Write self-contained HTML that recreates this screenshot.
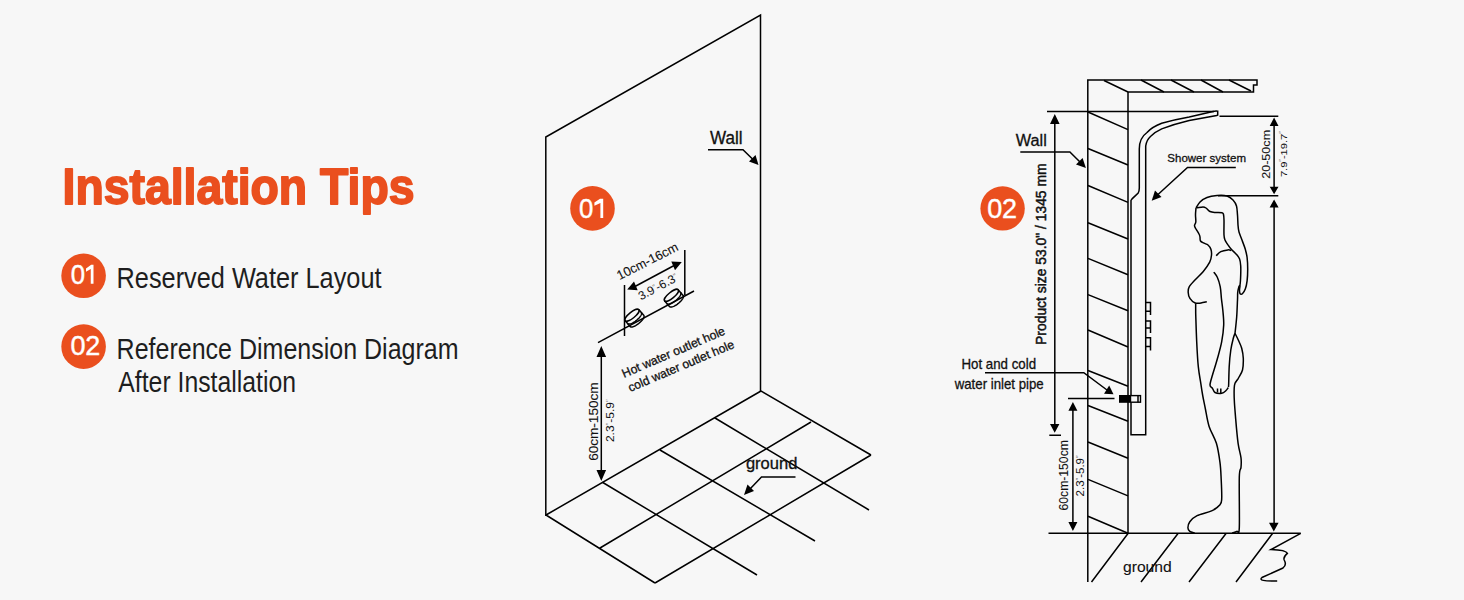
<!DOCTYPE html>
<html><head><meta charset="utf-8"><title>Installation Tips</title>
<style>
html,body{margin:0;padding:0;background:#f7f7f7;}
body{width:1464px;height:600px;overflow:hidden;font-family:"Liberation Sans",sans-serif;}
svg{display:block;}
svg text{font-family:"Liberation Sans",sans-serif;}
.ln{fill:none;stroke:#000;stroke-width:1.5;stroke-linecap:butt;stroke-linejoin:miter;}
.fl{fill:#000;stroke:none;}
</style></head>
<body>
<svg width="1464" height="600" viewBox="0 0 1464 600">
<rect width="1464" height="600" fill="#f7f7f7"/>
<text x="62.5" y="203.5" font-size="50" font-weight="bold" style="fill:#ea4f1e;stroke:#ea4f1e;stroke-width:1.8;stroke-linejoin:round" textLength="352" lengthAdjust="spacingAndGlyphs">Installation Tips</text>
<circle cx="83.6" cy="275.8" r="22.3" fill="#ea4f1e"/>
<circle cx="83.6" cy="346.6" r="22.3" fill="#ea4f1e"/>
<circle cx="592.5" cy="208.4" r="22.3" fill="#ea4f1e"/>
<circle cx="1002.6" cy="208.4" r="22.2" fill="#ea4f1e"/>
<path fill="#fff" d="M93.5,264.8 V283.8 H90.75 V268.9 L86,271.7 V268.6 L91.2,264.8 Z M603.2,198.8 V218 H600.4 V202.9 L594.4,205.8 V202.6 L600,198.8 Z"/>
<!-- DIAGRAM 1 -->
<path class="ln" d="M545.8,516 V137 L760.5,15 V392"/>
<!-- floor -->
<path class="ln" d="M546,515 L761,391 M600,548 L811,422 M655,583 L871,455 M546,515 L655,583 M602,482 L757,575 M660,450 L815,541 M715,418 L869,510 M761,391 L871,455"/>
<!-- wall leader -->
<path class="ln" d="M708,149.7 H743 L753,159.5"/>
<path class="fl" d="M758.5,165 L749,161.5 L755.5,155 Z"/>
<!-- pipes -->
<path class="ln" d="M598,342.6 L694,291 M624.5,285 V336 M684.8,250 V295"/>
<path class="ln" d="M634,287 L676,264.5"/>
<path class="fl" d="M627.2,289.6 L637.7,290.2 L634,281.4 Z M681.8,262 L671.3,261.4 L675,270.2 Z"/>
<ellipse class="ln" cx="632.00" cy="315.20" rx="8.8" ry="3.0" transform="rotate(-39 632.00 315.20)"/>
<path class="ln" d="M638.73,309.55 L643.73,315.35 L643.93,315.59 L644.05,315.89 L644.09,316.25 L644.06,316.67 L643.95,317.12 L643.76,317.63 L643.50,318.16 L643.17,318.73 L642.77,319.33 L642.31,319.94 L641.79,320.56 L641.21,321.19 L640.59,321.82 L639.93,322.44 L639.24,323.04 L638.53,323.62 L637.79,324.17 L637.05,324.69 L636.31,325.16 L635.58,325.59 L634.86,325.97 L634.16,326.30 L633.50,326.56 L632.87,326.77 L632.29,326.91 L631.76,326.99 L631.29,327.01 L630.88,326.95 L630.54,326.83 L630.27,326.65 L630.07,326.41 L625.07,320.61"/>
<path class="ln" d="M641.23,312.45 L641.43,312.69 L641.55,312.99 L641.59,313.35 L641.56,313.77 L641.45,314.22 L641.26,314.73 L641.00,315.26 L640.67,315.83 L640.27,316.43 L639.81,317.04 L639.29,317.66 L638.71,318.29 L638.09,318.92 L637.43,319.54 L636.74,320.14 L636.03,320.72 L635.29,321.27 L634.55,321.79 L633.81,322.26 L633.08,322.69 L632.36,323.07 L631.66,323.40 L631.00,323.66 L630.37,323.87 L629.79,324.01 L629.26,324.09 L628.79,324.11 L628.38,324.05 L628.04,323.93 L627.77,323.75 L627.57,323.51"/>
<ellipse class="ln" cx="671.40" cy="295.30" rx="8.8" ry="3.0" transform="rotate(-39 671.40 295.30)"/>
<path class="ln" d="M678.13,289.65 L683.13,295.45 L683.33,295.69 L683.45,295.99 L683.49,296.35 L683.46,296.77 L683.35,297.22 L683.16,297.73 L682.90,298.26 L682.57,298.83 L682.17,299.43 L681.71,300.04 L681.19,300.66 L680.61,301.29 L679.99,301.92 L679.33,302.54 L678.64,303.14 L677.93,303.72 L677.19,304.27 L676.45,304.79 L675.71,305.26 L674.98,305.69 L674.26,306.07 L673.56,306.40 L672.90,306.66 L672.27,306.87 L671.69,307.01 L671.16,307.09 L670.69,307.11 L670.28,307.05 L669.94,306.93 L669.67,306.75 L669.47,306.51 L664.47,300.71"/>
<path class="ln" d="M680.63,292.55 L680.83,292.79 L680.95,293.09 L680.99,293.45 L680.96,293.87 L680.85,294.32 L680.66,294.83 L680.40,295.36 L680.07,295.93 L679.67,296.53 L679.21,297.14 L678.69,297.76 L678.11,298.39 L677.49,299.02 L676.83,299.64 L676.14,300.24 L675.43,300.82 L674.69,301.37 L673.95,301.89 L673.21,302.36 L672.48,302.79 L671.76,303.17 L671.06,303.50 L670.40,303.76 L669.77,303.97 L669.19,304.11 L668.66,304.19 L668.19,304.21 L667.78,304.15 L667.44,304.03 L667.17,303.85 L666.97,303.61"/>
<!-- 60-150 dim -->
<path class="ln" d="M601.3,354 V472"/>
<path class="fl" d="M601.3,346 L596.5,357 L606.1,357 Z M601.3,481 L596.5,470 L606.1,470 Z"/>
<!-- ground leader -->
<path class="ln" d="M795.5,477 H761.5 L750,489"/>
<path class="fl" d="M744,495 L747.5,484.5 L754,491 Z"/>

<!-- DIAGRAM 2 -->
<path class="ln" d="M1087.8,582 V80 H1257 V85 H1253.5 V92 H1128 V533.3"/>
<path class="ln" d="M1104,80.5 L1128,92 M1141,80 L1164,92 M1171,80 L1194,92 M1201,80 L1223,92 M1229,80 L1251,91"/>
<path class="ln" d="M1088,112 L1128,129.6 M1088,148.5 L1128,165 M1088,185.5 L1128,202.4 M1088,222.7 L1128,239 M1088,258.4 L1128,274.7 M1088,294.6 L1128,310.8 M1088,330 L1128,347 M1088,370.5 L1128,386.3 M1088,405.5 L1128,421.3 M1088,442 L1128,458.2 M1088,479.4 L1128,495.9 M1088,516.2 L1128,533.2"/>
<path class="ln" d="M1048.5,533.3 H1300.7 M1128,533.5 L1091.5,582 M1178,533.5 L1141,582 M1226,533.5 L1189,582 M1272.5,533.5 L1236,582"/>
<path class="ln" d="M1300.7,533.3 L1271,549.5 Q1286,550 1287.4,553.4 Q1283,557 1284.2,560 Q1287,565 1283,568 L1262,577.5 Q1257,581.5 1277.2,581"/>
<!-- product size dim -->
<path class="ln" d="M1047,111.4 H1214"/>
<path class="ln" d="M1054.8,122 V425 M1049.3,435.3 H1061"/>
<path class="fl" d="M1054.8,113.9 L1050,124 L1059.6,124 Z M1054.7,432.7 L1050,424 L1059.4,424 Z"/>
<!-- wall leader -->
<path class="ln" d="M1020.3,152 H1069.9 L1080,162"/>
<path class="fl" d="M1085.9,167.9 L1076,164.5 L1082.6,158 Z"/>
<!-- shower panel -->
<path class="ln" d="M1131,434.8 V200.4 L1132.3,198.6 L1138.2,193 Q1139.3,191 1139.3,188 V149 Q1139.3,138 1147,132.5 Q1152,127 1161.7,123.3 Q1175,119.5 1189.2,117 L1213,111.4 Q1216,110.8 1217.7,111.2 V115 Q1217,115.4 1216.7,115.5 L1189.2,120.6 Q1175,124 1161.7,128.9 Q1155,132 1150.7,136.2 Q1146.5,140 1145.7,146 V434.8 Z"/>
<path class="ln" d="M1145.6,302.6 H1150.5 V315 M1145.6,311.2 H1150.5 M1145.6,320.9 H1150.5 V333.1 M1145.6,327.9 H1150.5 M1145.6,337.8 H1150.5 V350.4 M1145.6,346.5 H1150.5"/>
<!-- connector -->
<rect x="1119" y="395" width="11.5" height="7.8" fill="#000"/>
<rect x="1130.5" y="395.6" width="10" height="6.6" fill="#f7f7f7" stroke="#000" stroke-width="1.4"/>
<path class="ln" d="M1138,395.6 V402.2"/>
<!-- inlet leader -->
<path class="ln" d="M985,372.7 H1083.8 L1107,390"/>
<path class="fl" d="M1104,393.8 L1113.5,394.2 L1109.2,385.5 Z"/>
<!-- 60-150 dim 2 -->
<path class="ln" d="M1068,398.4 H1114.5 M1072.9,408 V524"/>
<path class="fl" d="M1072.9,402 L1068.4,410.7 L1077.4,410.7 Z M1072.9,531 L1068.4,522 L1077.4,522 Z"/>
<!-- shower system leader -->
<path class="ln" d="M1235.8,167.5 H1187.5 L1158,194.5"/>
<path class="fl" d="M1151.7,200.8 L1155,190.5 L1161.5,197 Z"/>
<!-- 20-50 dim -->
<path class="ln" d="M1219.5,116.3 H1278.3 M1274.1,124 V188 M1218,195.8 H1278.3 M1274.1,207 V524"/>
<path class="fl" d="M1274.1,117.5 L1269.7,126 L1278.5,126 Z M1274.1,194.2 L1269.7,186.7 L1278.5,186.7 Z M1274.1,199.5 L1269.6,207.5 L1278.6,207.5 Z M1273.8,531.4 L1269,522.8 L1278.6,522.8 Z"/>

<!-- person -->
<path class="ln" d="M1196.0,208.0 C1196.7,207.0 1198.2,203.8 1200.0,202.0 C1201.8,200.2 1204.2,198.6 1207.0,197.5 C1209.8,196.4 1213.7,195.8 1217.0,195.5 C1220.3,195.2 1224.3,195.2 1227.0,196.0 C1229.7,196.8 1231.4,198.3 1233.0,200.0 C1234.6,201.7 1235.8,203.5 1236.5,206.0 C1237.2,208.5 1237.2,211.8 1237.5,215.0 C1237.8,218.2 1237.8,222.2 1238.0,225.0 C1238.2,227.8 1238.3,229.5 1239.0,232.0 C1239.7,234.5 1241.0,237.1 1242.0,240.0 C1243.0,242.9 1244.5,246.4 1245.3,249.3 C1246.1,252.2 1246.7,254.2 1247.1,257.5 C1247.5,260.8 1247.7,265.3 1247.7,269.2 C1247.7,273.1 1247.5,277.5 1247.1,280.8 C1246.7,284.1 1246.1,286.9 1245.3,289.0 C1244.5,291.1 1243.3,292.9 1242.4,293.7 C1241.5,294.5 1240.6,294.3 1240.1,293.7 C1239.6,293.1 1239.5,291.6 1239.5,290.2 C1239.5,288.8 1240.0,286.3 1240.1,285.5"/>
<path class="ln" d="M1196.0,208.0 C1195.9,209.2 1195.5,212.7 1195.5,215.0 C1195.5,217.3 1196.0,220.2 1195.8,222.0 C1195.6,223.8 1194.5,224.3 1194.5,225.5 C1194.5,226.7 1195.2,227.6 1196.0,229.0 C1196.8,230.4 1198.3,232.7 1199.0,234.0 C1199.7,235.3 1199.8,235.8 1200.0,237.0 C1200.2,238.2 1199.8,240.0 1200.5,241.0 C1201.2,242.0 1202.8,242.5 1204.0,243.2 C1205.2,243.9 1206.8,244.0 1208.0,245.0 C1209.2,246.0 1210.3,247.6 1210.9,249.3 C1211.5,251.0 1211.7,253.0 1211.5,255.2 C1211.3,257.3 1211.1,259.5 1209.7,262.2 C1208.3,264.9 1205.7,268.6 1203.3,271.5 C1200.9,274.4 1197.5,277.2 1195.2,279.7 C1192.9,282.2 1190.5,284.6 1189.3,286.7 C1188.1,288.8 1188.1,290.6 1188.2,292.5 C1188.3,294.4 1188.7,296.6 1189.9,298.3 C1191.1,300.1 1193.4,302.2 1195.2,303.0 C1197.0,303.8 1199.1,303.2 1201.0,303.0 C1202.9,302.8 1205.8,302.0 1206.8,301.8"/>
<path class="ln" d="M1197.0,207.8 C1198.0,207.7 1201.5,207.0 1203.0,207.0 C1204.5,207.0 1204.8,207.2 1206.0,208.0 C1207.2,208.8 1208.5,210.8 1210.0,211.5 C1211.5,212.2 1213.0,212.3 1215.0,212.5 C1217.0,212.7 1220.6,212.5 1222.0,212.8 C1223.4,213.1 1223.2,213.3 1223.5,214.5 C1223.8,215.7 1223.9,216.6 1224.0,220.0 C1224.1,223.4 1223.8,231.7 1224.0,235.0 C1224.2,238.3 1224.4,238.4 1225.0,240.0 C1225.6,241.6 1226.8,243.1 1227.8,244.7 C1228.8,246.2 1229.9,247.8 1231.3,249.3 C1232.7,250.9 1234.6,252.4 1236.0,254.0 C1237.4,255.6 1238.7,256.8 1239.5,258.7 C1240.3,260.6 1240.5,263.0 1240.7,265.7 C1240.9,268.4 1240.8,271.9 1240.7,275.0 C1240.6,278.1 1240.4,282.4 1240.1,284.3 C1239.8,286.2 1239.3,285.3 1238.9,286.7 C1238.5,288.1 1237.9,290.3 1237.7,292.5 C1237.5,294.7 1237.7,296.0 1237.5,300.0 C1237.3,304.0 1237.1,311.1 1236.7,316.7 C1236.3,322.2 1235.3,330.5 1235.0,333.3"/>
<path class="ln" d="M1216.2,255.7 C1217.0,255.0 1218.9,252.7 1220.8,251.7 C1222.7,250.7 1226.0,250.1 1227.8,249.9 C1229.5,249.7 1230.7,250.4 1231.3,250.5"/>
<path class="ln" d="M1213.8,272.1 C1214.4,273.0 1216.2,274.9 1217.3,277.3 C1218.4,279.7 1219.5,283.2 1220.2,286.7 C1220.9,290.2 1221.0,294.4 1221.4,298.3 C1221.8,302.2 1222.4,305.6 1222.8,310.0 C1223.2,314.4 1223.9,319.7 1223.7,325.0 C1223.5,330.3 1222.7,336.1 1221.7,341.7 C1220.7,347.2 1219.0,352.8 1217.5,358.3 C1216.0,363.9 1213.8,370.6 1212.5,375.0 C1211.2,379.4 1210.0,382.8 1210.0,385.0 C1210.0,387.2 1211.7,387.1 1212.5,388.3 C1213.3,389.6 1213.5,391.7 1215.0,392.5 C1216.5,393.3 1219.9,393.6 1221.7,393.3 C1223.5,393.0 1224.7,391.8 1225.8,390.8 C1226.9,389.8 1227.9,388.1 1228.3,387.5"/>
<path class="ln" d="M1235.0,333.3 C1234.7,334.1 1234.0,335.5 1233.3,338.3 C1232.6,341.1 1231.5,345.3 1230.8,350.0 C1230.1,354.7 1229.5,361.1 1229.2,366.7 C1228.9,372.2 1228.8,379.9 1228.7,383.3 C1228.6,386.7 1228.5,386.4 1228.5,387.0"/>
<path class="ln" d="M1235.0,333.3 C1235.5,334.4 1237.2,337.5 1238.3,340.0 C1239.4,342.5 1240.9,345.2 1241.7,348.3 C1242.5,351.4 1243.2,354.7 1243.3,358.3 C1243.4,361.9 1243.3,366.7 1242.5,370.0 C1241.7,373.3 1239.5,376.1 1238.3,378.3 C1237.0,380.5 1235.7,381.6 1235.0,383.3 C1234.3,385.0 1234.3,385.5 1234.2,388.3 C1234.1,391.1 1234.0,394.9 1234.3,400.0 C1234.5,405.1 1235.1,411.9 1235.7,419.1 C1236.3,426.3 1237.2,436.9 1238.1,443.3 C1239.0,449.8 1240.5,453.8 1241.0,457.8 C1241.5,461.8 1241.3,464.2 1241.0,467.4 C1240.7,470.6 1239.6,467.0 1239.3,477.1 C1239.0,487.2 1239.7,518.8 1239.3,527.8 C1238.9,536.8 1238.1,530.5 1236.9,531.4 C1235.7,532.3 1232.9,532.8 1232.1,533.1"/>
<path class="ln" d="M1195.7,303.6 C1195.7,305.8 1195.6,310.4 1195.8,316.7 C1196.0,323.0 1196.3,333.4 1196.7,341.7 C1197.1,350.0 1197.6,359.8 1198.3,366.7 C1199.0,373.6 1200.0,378.4 1200.8,383.3 C1201.5,388.2 1202.0,391.6 1202.8,396.0 C1203.6,400.4 1204.5,404.4 1205.5,409.5 C1206.5,414.6 1207.3,420.8 1209.1,426.4 C1210.9,432.0 1214.6,437.3 1216.4,443.3 C1218.2,449.3 1219.2,456.6 1220.0,462.6 C1220.8,468.6 1220.9,473.5 1221.2,479.5 C1221.5,485.5 1221.9,494.6 1221.7,498.8 C1221.5,503.0 1221.7,502.8 1220.0,504.8 C1218.3,506.8 1215.4,509.1 1211.6,510.9 C1207.8,512.7 1200.7,513.9 1197.1,515.7 C1193.5,517.5 1191.3,519.7 1189.8,521.7 C1188.3,523.7 1187.9,526.2 1187.9,527.8 C1187.9,529.4 1188.7,530.5 1189.8,531.4 C1190.9,532.3 1193.9,532.8 1194.7,533.1"/>
<path class="ln" d="M1217.5,388.5 V392.5 M1220.8,388.5 V393"/>

<!-- texts -->
<text x="70.65" y="283.80" font-size="27" style="fill:#fff;stroke:#fff;stroke-width:0.4" textLength="14.34" lengthAdjust="spacingAndGlyphs">0</text>
<text x="116.55" y="287.70" font-size="29" style="fill:#1e1e1e;" textLength="264.95" lengthAdjust="spacingAndGlyphs">Reserved Water Layout</text>
<text x="70.60" y="354.80" font-size="27" style="fill:#fff;letter-spacing:-0.30px;stroke:#fff;stroke-width:0.4">02</text>
<text x="116.57" y="358.70" font-size="29" style="fill:#1e1e1e;" textLength="342.02" lengthAdjust="spacingAndGlyphs">Reference Dimension Diagram</text>
<text x="118.30" y="392.30" font-size="29" style="fill:#1e1e1e;" textLength="177.77" lengthAdjust="spacingAndGlyphs">After Installation</text>
<text x="579.05" y="218.00" font-size="27" style="fill:#fff;stroke:#fff;stroke-width:0.4" textLength="14.34" lengthAdjust="spacingAndGlyphs">0</text>
<text x="710.00" y="143.80" font-size="17.5" style="fill:#111;stroke:#111;stroke-width:0.3;" textLength="32.58" lengthAdjust="spacingAndGlyphs">Wall</text>
<text x="-0.99" y="0" font-size="12.9" style="fill:#111;stroke:#111;stroke-width:0.1" textLength="66.83" lengthAdjust="spacingAndGlyphs" transform="translate(620.50,279.80) rotate(-27)">10cm-16cm</text>
<text x="-1.00" y="0" font-size="12" style="fill:#111;" textLength="42.91" lengthAdjust="spacingAndGlyphs" transform="translate(641.80,300.00) rotate(-28)">3.9<tspan style="fill:#777;stroke:none" font-size="0.65em" dy="-3">″</tspan><tspan dy="3">-6.3</tspan><tspan style="fill:#777;stroke:none" font-size="0.65em" dy="-3">″</tspan></text>
<text x="-0.98" y="0" font-size="12.3" style="fill:#111;stroke:#111;stroke-width:0.3;" textLength="110.98" lengthAdjust="spacingAndGlyphs" transform="translate(625.00,377.50) rotate(-23.3)">Hot water outlet hole</text>
<text x="-0.00" y="0" font-size="12.3" style="fill:#111;stroke:#111;stroke-width:0.3;" textLength="113.81" lengthAdjust="spacingAndGlyphs" transform="translate(630.30,392.00) rotate(-23.0)">cold water outlet hole</text>
<text x="-1.08" y="0" font-size="12.6" style="fill:#111;stroke:#111;stroke-width:0.1" textLength="78.44" lengthAdjust="spacingAndGlyphs" transform="translate(597.75,459.75) rotate(-90)">60cm-150cm</text>
<text x="-1.14" y="0" font-size="10.5" style="fill:#111;" textLength="42.97" lengthAdjust="spacingAndGlyphs" transform="translate(614.25,441.00) rotate(-90)">2.3<tspan style="fill:#777;stroke:none" font-size="0.65em" dy="-3">″</tspan><tspan dy="3">-5.9</tspan><tspan style="fill:#777;stroke:none" font-size="0.65em" dy="-3">″</tspan></text>
<text x="745.92" y="468.80" font-size="16.8" style="fill:#111;stroke:#111;stroke-width:0.3;" textLength="51.45" lengthAdjust="spacingAndGlyphs">ground</text>
<text x="987.20" y="218.00" font-size="27" style="fill:#fff;letter-spacing:-0.10px;stroke:#fff;stroke-width:0.4">02</text>
<text x="1015.75" y="145.50" font-size="16" style="fill:#111;stroke:#111;stroke-width:0.3;" textLength="31.02" lengthAdjust="spacingAndGlyphs">Wall</text>
<text x="-0.90" y="0" font-size="15.4" style="fill:#111;stroke:#111;stroke-width:0.5" textLength="181.44" lengthAdjust="spacingAndGlyphs" transform="translate(1046.10,344.00) rotate(-90)">Product size 53.0&quot; / 1345 mm</text>
<text x="1167.31" y="162.00" font-size="11.6" style="fill:#111;stroke:#111;stroke-width:0.3;" textLength="78.74" lengthAdjust="spacingAndGlyphs">Shower system</text>
<text x="-1.12" y="0" font-size="11.2" style="fill:#111;stroke:#111;stroke-width:0.1" textLength="48.92" lengthAdjust="spacingAndGlyphs" transform="translate(1270.20,177.70) rotate(-90)">20-50cm</text>
<text x="-1.14" y="0" font-size="9.8" style="fill:#111;" textLength="46.00" lengthAdjust="spacingAndGlyphs" transform="translate(1286.50,176.00) rotate(-90)">7.9<tspan style="fill:#777;stroke:none" font-size="0.65em" dy="-3">″</tspan><tspan dy="3">-19.7</tspan><tspan style="fill:#777;stroke:none" font-size="0.65em" dy="-3">″</tspan></text>
<text x="961.48" y="368.80" font-size="14.5" style="fill:#111;stroke:#111;stroke-width:0.3;" textLength="74.60" lengthAdjust="spacingAndGlyphs">Hot and cold</text>
<text x="954.70" y="389.30" font-size="14.5" style="fill:#111;stroke:#111;stroke-width:0.3;" textLength="88.98" lengthAdjust="spacingAndGlyphs">water inlet pipe</text>
<text x="-1.01" y="0" font-size="12" style="fill:#111;stroke:#111;stroke-width:0.1" textLength="70.38" lengthAdjust="spacingAndGlyphs" transform="translate(1067.75,509.50) rotate(-90)">60cm-150cm</text>
<text x="-1.15" y="0" font-size="10" style="fill:#111;" textLength="41.03" lengthAdjust="spacingAndGlyphs" transform="translate(1083.50,495.25) rotate(-90)">2.3<tspan style="fill:#777;stroke:none" font-size="0.65em" dy="-3">″</tspan><tspan dy="3">-5.9</tspan><tspan style="fill:#777;stroke:none" font-size="0.65em" dy="-3">″</tspan></text>
<text x="1122.98" y="571.50" font-size="15.3" style="fill:#111;stroke:#111;stroke-width:0.1" textLength="48.78" lengthAdjust="spacingAndGlyphs">ground</text>
</svg>
</body></html>
